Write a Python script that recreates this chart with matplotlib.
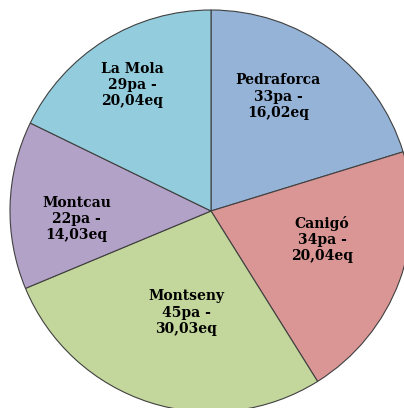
import numpy as np
import matplotlib
matplotlib.use("Agg")
from matplotlib import pyplot as plt

# dades
noms = ['Pedraforca', 'Canigó', 'Montseny', 'Montcau', 'La Mola']
pa = [33, 34, 45, 22, 29]
eq = ['16,02', '20,04', '30,03', '14,03', '20,04']
colors = ['#95B3D7', '#D99694', '#C3D69B', '#B3A2C7', '#93CDDD']

fig = plt.figure(figsize=(4.04, 4.08), dpi=100)
ax = fig.add_axes([0, 0, 1, 1])

cx, cy, rad = 211, 408 - 211, 201
wedges, _ = ax.pie(pa, colors=colors, startangle=90, counterclock=False,
                   center=(cx, cy), radius=rad, frame=True,
                   wedgeprops=dict(edgecolor='#404040', linewidth=0.8))
ax.set_xlim(0, 404)
ax.set_ylim(0, 408)
ax.axis('off')

# label placement (fraction of radius, angle nudge in degrees)
label_r = [0.66, 0.57, 0.52, 0.67, 0.74]
label_da = [6, 6, 4, 5, 0]
for w, n, p, e, r, da in zip(wedges, noms, pa, eq, label_r, label_da):
    ang = np.deg2rad((w.theta1 + w.theta2) / 2 + da)
    ax.text(cx + r * rad * np.cos(ang), cy + r * rad * np.sin(ang),
            '%s\n%dpa -\n%seq' % (n, p, e), ha='center', va='center',
            fontsize=10, fontweight='bold', family='DejaVu Serif',
            linespacing=1.2, color='black')

fig.savefig('out.png', dpi=100)
